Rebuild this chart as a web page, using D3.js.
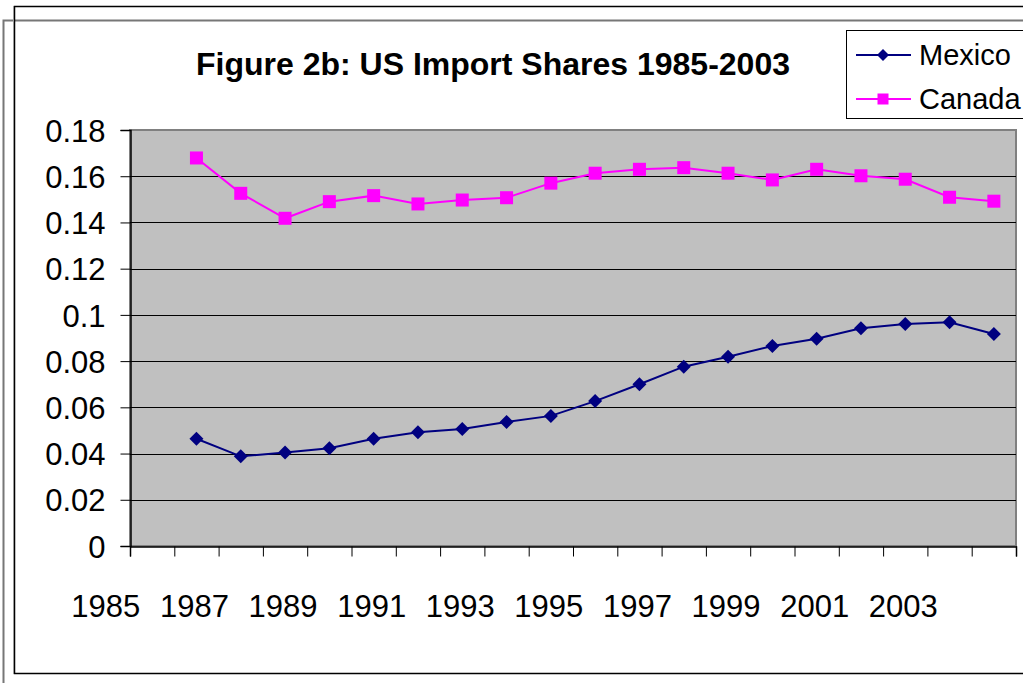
<!DOCTYPE html>
<html>
<head>
<meta charset="utf-8">
<script src="https://cdn.jsdelivr.net/npm/d3@7.9.0/dist/d3.min.js"></script>
<style>
  html, body { margin: 0; padding: 0; background: #fff; }
  text { font-family: Arial, "Liberation Sans", sans-serif; }
</style>
</head>
<body>
<div id="chart"></div>
<script>
// years of the data series (1985-2003)
const years = [1985, 1986, 1987, 1988, 1989, 1990, 1991, 1992, 1993, 1994,
               1995, 1996, 1997, 1998, 1999, 2000, 2001, 2002, 2003];
const mexico = [0.0464, 0.0388, 0.0405, 0.0423, 0.0464, 0.0492, 0.0506, 0.0537, 0.0563, 0.0627,
                0.0700, 0.0776, 0.0819, 0.0865, 0.0897, 0.0942, 0.0961, 0.0968, 0.0917];
const canada = [0.1679, 0.1526, 0.1418, 0.1490, 0.1516, 0.1480, 0.1497, 0.1507, 0.1570, 0.1613,
                0.1630, 0.1637, 0.1613, 0.1584, 0.1630, 0.1602, 0.1587, 0.1509, 0.1492];
// x tick labels as they appear (shifted two slots left of the data)
const xLabels = [1985, 1987, 1989, 1991, 1993, 1995, 1997, 1999, 2001, 2003];
const yTicks = [0, 0.02, 0.04, 0.06, 0.08, 0.1, 0.12, 0.14, 0.16, 0.18];

const width = 1023, height = 683;
const plot = {left: 130, right: 1016, top: 130, bottom: 546};

const svg = d3.select("#chart").append("svg")
    .attr("width", width)
    .attr("height", height);

// frames
svg.append("path")
    .attr("d", "M3.5,690 V20.5 H1030")
    .attr("fill", "none").attr("stroke", "#777").attr("stroke-width", 2);
svg.append("path")
    .attr("d", "M1030,6.5 H14.5 V673.5 H1030")
    .attr("fill", "none").attr("stroke", "#000").attr("stroke-width", 1.5);
svg.append("line")
    .attr("x1", 13.5).attr("x2", 13.5).attr("y1", 6).attr("y2", 674)
    .attr("stroke", "#999").attr("stroke-width", 1);

// scale: slots of one year, first slot begins at 1984
const x = d3.scaleLinear().domain([1984, 2004]).range([plot.left, plot.right]);
const y = d3.scaleLinear().domain([0, 0.18]).range([plot.bottom, plot.top]);

// plot area
svg.append("rect")
    .attr("x", plot.left).attr("y", plot.top)
    .attr("width", plot.right - plot.left).attr("height", plot.bottom - plot.top)
    .attr("fill", "#c0c0c0")
    .attr("stroke", "#808080").attr("stroke-width", 2);

// gridlines
svg.append("g")
    .selectAll("line")
    .data(yTicks.filter(d => d > 0 && d < 0.18))
    .enter()
    .append("line")
    .attr("x1", plot.left).attr("x2", plot.right)
    .attr("y1", d => Math.round(y(d)) + 0.5).attr("y2", d => Math.round(y(d)) + 0.5)
    .attr("stroke", "#000").attr("stroke-width", 1);

// y axis
const yAxis = svg.append("g")
    .attr("transform", "translate(" + (plot.left + 0.5) + ",0)")
    .call(d3.axisLeft(y).tickValues(yTicks).tickSize(10).tickPadding(15)
        .tickFormat(d => String(+d.toFixed(2))));
yAxis.select(".domain").attr("stroke", "#000").attr("stroke-width", 1.5);
yAxis.selectAll(".tick line").attr("stroke", "#000");
yAxis.selectAll("text")
    .attr("font-size", 31).attr("fill", "#000")
    .attr("font-family", "Arial, 'Liberation Sans', sans-serif")
    .attr("dy", "0.36em");

// x axis: ticks at every year boundary
const xAxis = svg.append("g")
    .attr("transform", "translate(0," + (plot.bottom + 0.5) + ")")
    .call(d3.axisBottom(x).tickValues(d3.range(1984, 2005)).tickSize(10).tickFormat(""));
xAxis.select(".domain").attr("stroke", "#000").attr("stroke-width", 1.5);
xAxis.selectAll(".tick line").attr("stroke", "#000");

svg.append("g")
    .selectAll("text")
    .data(xLabels)
    .enter()
    .append("text")
    .attr("x", d => x(d - 1.5) - 2)
    .attr("y", 617)
    .attr("text-anchor", "middle")
    .attr("font-size", 31)
    .text(d => d);

// series
const line = d3.line()
    .x((d, i) => x(years[i] + 0.5))
    .y(d => y(d));

svg.append("path").datum(mexico)
    .attr("d", line).attr("fill", "none")
    .attr("stroke", "#000080").attr("stroke-width", 2);
svg.append("path").datum(canada)
    .attr("d", line).attr("fill", "none")
    .attr("stroke", "#ff00ff").attr("stroke-width", 2);

const diamond = s => "M0," + (-s) + " L" + s + ",0 L0," + s + " L" + (-s) + ",0 Z";

svg.append("g")
    .selectAll("path")
    .data(mexico)
    .enter()
    .append("path")
    .attr("transform", (d, i) => "translate(" + x(years[i] + 0.5) + "," + y(d) + ")")
    .attr("d", diamond(7))
    .attr("fill", "#000080");

svg.append("g")
    .selectAll("rect")
    .data(canada)
    .enter()
    .append("rect")
    .attr("x", (d, i) => x(years[i] + 0.5) - 6.5)
    .attr("y", d => y(d) - 6.5)
    .attr("width", 13).attr("height", 13)
    .attr("fill", "#ff00ff");

// title
svg.append("text")
    .attr("x", 493).attr("y", 75)
    .attr("text-anchor", "middle")
    .attr("font-size", 32).attr("font-weight", "bold")
    .text("Figure 2b: US Import Shares 1985-2003");

// legend
const legend = svg.append("g");
legend.append("rect")
    .attr("x", 846.5).attr("y", 30.5).attr("width", 200).attr("height", 88)
    .attr("fill", "#fff").attr("stroke", "#000").attr("stroke-width", 1);

const items = [
    {name: "Mexico", color: "#000080", cy: 55},
    {name: "Canada", color: "#ff00ff", cy: 99}
];
items.forEach((it, k) => {
    legend.append("line")
        .attr("x1", 856).attr("x2", 911).attr("y1", it.cy).attr("y2", it.cy)
        .attr("stroke", it.color).attr("stroke-width", 2);
    if (k === 0) {
        legend.append("path")
            .attr("transform", "translate(883," + it.cy + ")")
            .attr("d", diamond(6)).attr("fill", it.color);
    } else {
        legend.append("rect")
            .attr("x", 877.5).attr("y", it.cy - 5.5).attr("width", 11).attr("height", 11)
            .attr("fill", it.color);
    }
    legend.append("text")
        .attr("x", 919).attr("y", it.cy + 10)
        .attr("font-size", 29)
        .text(it.name);
});
</script>
</body>
</html>
